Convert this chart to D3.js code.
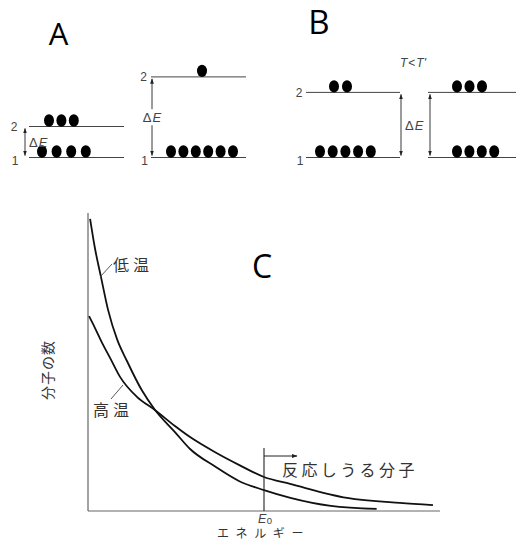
<!DOCTYPE html>
<html>
<head>
<meta charset="utf-8">
<script src="https://cdn.jsdelivr.net/npm/d3@7"></script>
<style>
  body { margin: 0; background: #fff; }
  svg { display: block; }
  .jp { font-family: "Noto Sans CJK JP", sans-serif; fill: #333; }
  .num { font-family: "Liberation Sans", Arial, sans-serif; fill: #444; }
</style>
</head>
<body>
<script>
// ---- data ----
// level diagrams: A-left, A-right, B-left, B-right
const diagramNames = ['A1', 'A2', 'B1', 'B2'];
const lowerCounts = [4, 6, 5, 4];
const upperCounts = [3, 1, 2, 3];
const gapValues = [1.0, 2.6, 2.1, 2.1]; // ΔE in relative units

// distribution curves (energy, number of molecules)
const lowTempE = [0.06, 0.2, 0.37, 0.57, 0.83, 1.1, 1.53, 1.9, 2.47, 2.9, 3.6, 4.3, 5.0, 5.75, 6.9, 8.2];
const lowTempN = [9.8, 8.8, 7.85, 6.75, 5.75, 5.05, 4.05, 3.4, 2.65, 2.08, 1.5, 1.0, 0.7, 0.44, 0.17, 0.07];
const highTempE = [0.03, 0.2, 0.4, 0.63, 0.91, 1.39, 1.9, 2.47, 2.9, 3.6, 4.3, 5.0, 5.74, 7.36, 8.86, 9.8];
const highTempN = [6.54, 6.14, 5.64, 5.13, 4.5, 3.83, 3.39, 2.85, 2.48, 1.98, 1.54, 1.14, 0.91, 0.44, 0.27, 0.2];
const thresholdE = 5.0;

const svg = d3.select('body').append('svg')
  .attr('width', 516).attr('height', 540);

// arrow markers
const defs = svg.append('defs');
defs.append('marker').attr('id', 'head')
  .attr('viewBox', '0 0 10 10').attr('refX', 9).attr('refY', 5)
  .attr('markerWidth', 6).attr('markerHeight', 6).attr('orient', 'auto-start-reverse')
  .append('path').attr('d', 'M0,1.5 L10,5 L0,8.5 Z').attr('fill', '#222');

// ===================== PANEL LABELS ===================== //
const labelFont = '"Open Sans", "Liberation Sans", sans-serif';
[['A', 58.5, 45, 31], ['B', 319, 34, 33], ['C', 262, 278, 32]].forEach(([t, x, y, s]) => {
  svg.append('text').attr('x', x).attr('y', y).attr('text-anchor', 'middle')
    .attr('font-family', labelFont).attr('font-size', s).attr('fill', '#000').text(t);
});

// ===================== LEVEL DIAGRAMS ===================== //
// layout of each small diagram
const layout = {
  A1: { x0: 29, x1: 124, arrowX: 25, labelX: 14, lowStart: 42, lowStep: 14.6, upStart: 49, upStep: 12.4, dE: 'right' },
  A2: { x0: 151, x1: 246, arrowX: 152, labelX: 143.5, lowStart: 171, lowStep: 12.4, upStart: 202, upStep: 12.4, dE: 'over' },
  B1: { x0: 306, x1: 400, arrowX: 401, labelX: 299, lowStart: 320, lowStep: 12.7, upStart: 334, upStep: 13, dE: 'right' },
  B2: { x0: 428, x1: 516, arrowX: 430, labelX: null, lowStart: 457, lowStep: 12.4, upStart: 457, upStep: 12.5, dE: null }
};

const yLevel = d3.scaleLinear().domain([0, 1]).range([157.5, 126.5]);

diagramNames.forEach((name, i) => {
  const L = layout[name];
  const g = svg.append('g').attr('class', 'diagram-' + name);
  const yLow = yLevel(0);
  const yUp = yLevel(gapValues[i]);

  // level lines
  [yLow, yUp].forEach((y) => {
    g.append('line').attr('x1', L.x0).attr('x2', L.x1).attr('y1', y).attr('y2', y)
      .attr('stroke', '#444').attr('stroke-width', 1);
  });

  // molecules
  const xLow = d3.scaleLinear().domain([0, 1]).range([L.lowStart, L.lowStart + L.lowStep]);
  const xUp = d3.scaleLinear().domain([0, 1]).range([L.upStart, L.upStart + L.upStep]);
  g.selectAll('.dot-low').data(d3.range(lowerCounts[i])).enter().append('ellipse')
    .attr('class', 'dot-low')
    .attr('cx', (d) => xLow(d)).attr('cy', yLow - 6).attr('rx', 5).attr('ry', 6.2).attr('fill', '#000');
  g.selectAll('.dot-up').data(d3.range(upperCounts[i])).enter().append('ellipse')
    .attr('class', 'dot-up')
    .attr('cx', (d) => xUp(d)).attr('cy', yUp - 6).attr('rx', 5).attr('ry', 6.2).attr('fill', '#000');

  // double arrow
  g.append('line').attr('x1', L.arrowX).attr('x2', L.arrowX)
    .attr('y1', yUp + 2).attr('y2', yLow - 2)
    .attr('stroke', '#222').attr('stroke-width', 0.9)
    .attr('marker-start', 'url(#head)').attr('marker-end', 'url(#head)');

  // level numbers
  if (L.labelX !== null) {
    g.append('text').attr('class', 'num').attr('x', L.labelX).attr('y', yUp + 4.5)
      .attr('text-anchor', 'middle').attr('font-size', 12).text('2');
    g.append('text').attr('class', 'num').attr('x', L.labelX + 1).attr('y', yLow + 7)
      .attr('text-anchor', 'middle').attr('font-size', 12).text('1');
  }

  // ΔE label
  if (L.dE) {
    const yMid = (yUp + yLow) / 2;
    const t = g.append('text').attr('class', 'num').attr('font-size', 13).attr('y', yMid + 5);
    if (L.dE === 'over') {
      g.insert('rect', 'text').attr('x', L.arrowX - 9).attr('y', yMid - 8)
        .attr('width', 19).attr('height', 16).attr('fill', '#fff');
      t.attr('x', L.arrowX).attr('text-anchor', 'middle');
    } else {
      t.attr('x', L.arrowX + 4);
    }
    t.append('tspan').text('Δ');
    t.append('tspan').attr('font-style', 'italic').attr('dx', 1).text('E');
  }
});

// T < T'
const tt = svg.append('text').attr('class', 'num').attr('x', 413).attr('y', 67)
  .attr('text-anchor', 'middle').attr('font-size', 12).attr('font-style', 'italic');
tt.append('tspan').text('T');
tt.append('tspan').attr('font-style', 'normal').attr('dx', 1).text('<');
tt.append('tspan').attr('dx', 1).text("T'");

// ===================== DISTRIBUTION CHART ===================== //
const x = d3.scaleLinear().domain([0, 10]).range([88, 440]);
const y = d3.scaleLinear().domain([0, 10]).range([511, 213]);

// axes (plain lines, no ticks)
svg.append('line').attr('x1', x(0)).attr('x2', x(0)).attr('y1', y(10)).attr('y2', y(0))
  .attr('stroke', '#666').attr('stroke-width', 1.2);
svg.append('line').attr('x1', x(0)).attr('x2', x(10)).attr('y1', y(0)).attr('y2', y(0))
  .attr('stroke', '#666').attr('stroke-width', 1.2);

const line = d3.line().x((d) => x(d[0])).y((d) => y(d[1])).curve(d3.curveMonotoneX);
const lowTemp = lowTempE.map((e, i) => [e, lowTempN[i]]);
const highTemp = highTempE.map((e, i) => [e, highTempN[i]]);

[lowTemp, highTemp].forEach((pts) => {
  svg.append('path').attr('d', line(pts)).attr('fill', 'none')
    .attr('stroke', '#111').attr('stroke-width', 1.8);
});

// threshold E0
svg.append('line').attr('x1', x(thresholdE)).attr('x2', x(thresholdE))
  .attr('y1', 448).attr('y2', y(0)).attr('stroke', '#222').attr('stroke-width', 1.1);
svg.append('line').attr('x1', x(thresholdE)).attr('x2', x(thresholdE) + 33)
  .attr('y1', 456).attr('y2', 456).attr('stroke', '#222').attr('stroke-width', 1)
  .attr('marker-end', 'url(#head)');

svg.append('text').attr('class', 'jp').attr('x', 282).attr('y', 476)
  .attr('font-size', 16).attr('letter-spacing', 3.4).text('反応しうる分子');

// E0 label: italic E with subscript 0
const e0 = svg.append('text').attr('class', 'num').attr('x', x(thresholdE) - 6).attr('y', 523)
  .attr('font-size', 12.5);
e0.append('tspan').attr('font-style', 'italic').text('E');
e0.append('tspan').attr('font-size', 9.5).attr('dy', 1).attr('dx', 0.5).text('0');

svg.append('text').attr('class', 'jp').attr('x', 217).attr('y', 538)
  .attr('font-size', 12).attr('letter-spacing', 6.6).text('エネルギー');

svg.append('text').attr('class', 'jp')
  .attr('transform', 'translate(53,370) rotate(-90)')
  .attr('text-anchor', 'middle').attr('font-size', 14).attr('letter-spacing', 1).text('分子の数');

// curve labels with leader lines
svg.append('line').attr('x1', 100).attr('y1', 277).attr('x2', 112).attr('y2', 264)
  .attr('stroke', '#444').attr('stroke-width', 0.9);
svg.append('text').attr('class', 'jp').attr('x', 113).attr('y', 271)
  .attr('font-size', 16).attr('letter-spacing', 4).text('低温');

svg.append('line').attr('x1', 123).attr('y1', 385).attr('x2', 111).attr('y2', 399)
  .attr('stroke', '#444').attr('stroke-width', 0.9);
svg.append('text').attr('class', 'jp').attr('x', 93).attr('y', 416)
  .attr('font-size', 16).attr('letter-spacing', 4).text('高温');
</script>
</body>
</html>
